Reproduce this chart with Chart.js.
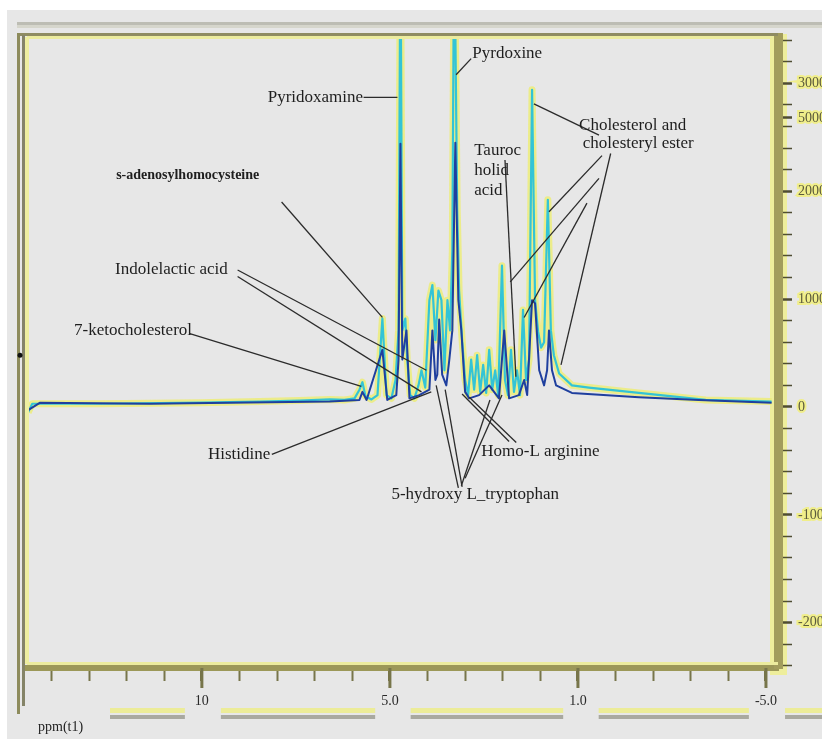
<!DOCTYPE html>
<html>
<head>
<meta charset="utf-8">
<title>ppm(t1)</title>
<script src="https://cdn.jsdelivr.net/npm/chart.js@4.4.1/dist/chart.umd.min.js"></script>
<style>
  body { margin: 0; background: #ffffff; overflow: hidden; }
  #fondo { position: absolute; left: 7px; top: 10px; right: 0; bottom: 0; background: #e7e7e7; }
  #caja { position: absolute; left: 0; top: 0; width: 860px; height: 739px; }
</style>
</head>
<body>
<div id="fondo"></div>
<div id="caja"><canvas id="grafico"></canvas></div>
<script>
// espectro (eje x en ppm del dibujo, eje y en unidades de la escala derecha)
const cyanPpm = [14.62, 14.51, 12.71, 10.05, 8.46, 7.40, 6.60, 6.21, 5.94, 5.81, 5.73, 5.65, 5.49, 5.33, 5.20, 5.09, 4.96, 4.85, 4.77, 4.72,
  4.67, 4.59, 4.54, 4.46, 4.35, 4.24, 4.16, 4.06, 3.95, 3.87, 3.79, 3.71, 3.63, 3.55, 3.47, 3.40, 3.34, 3.29, 3.21, 3.16,
  3.08, 3.00, 2.92, 2.84, 2.76, 2.68, 2.60, 2.52, 2.44, 2.36, 2.28, 2.20, 2.12, 2.02, 1.94, 1.86, 1.78, 1.70, 1.62, 1.54,
  1.46, 1.38, 1.30, 1.22, 1.14, 1.06, 0.98, 0.90, 0.80, 0.72, 0.64, 0.50, 0.16, -0.29, -1.62, -3.40, -5.15];
const cyanIntensity = [-0.05, 0.03, 0.03, 0.04, 0.05, 0.06, 0.07, 0.065, 0.08, 0.16, 0.23, 0.10, 0.07, 0.11, 0.82, 0.11, 0.08, 0.25, 0.71, 4.5,
  0.71, 0.82, 0.44, 0.11, 0.08, 0.20, 0.34, 0.18, 0.99, 1.13, 0.62, 1.08, 0.99, 0.34, 0.99, 0.71, 1.45, 4.5, 1.82, 1.08,
  0.62, 0.25, 0.11, 0.44, 0.16, 0.48, 0.14, 0.39, 0.13, 0.53, 0.16, 0.34, 0.11, 1.31, 0.25, 0.11, 0.53, 0.14, 0.34, 0.11,
  0.90, 0.25, 0.44, 2.94, 0.99, 0.70, 0.55, 0.60, 1.92, 0.71, 0.48, 0.31, 0.20, 0.18, 0.13, 0.065, 0.05];

const bluePpm = [14.62, 14.30, 11.38, 6.60, 5.81, 5.73, 5.62, 5.20, 5.07, 4.83, 4.77, 4.72, 4.67, 4.56, 4.48, 4.22, 3.95, 3.87, 3.79, 3.74,
  3.69, 3.61, 3.50, 3.42, 3.34, 3.26, 3.18, 3.10, 3.00, 2.89, 2.63, 2.36, 2.10, 1.96, 1.83, 1.57, 1.43, 1.35, 1.22, 1.14,
  1.03, 0.90, 0.82, 0.77, 0.69, 0.58, 0.16, -1.62, -3.21, -5.15];
const blueIntensity = [-0.03, 0.04, 0.03, 0.05, 0.065, 0.14, 0.065, 0.53, 0.065, 0.11, 0.44, 2.44, 0.44, 0.71, 0.08, 0.11, 0.16, 0.71, 0.25, 0.30,
  0.81, 0.30, 0.20, 0.44, 0.71, 2.45, 0.99, 0.71, 0.14, 0.08, 0.11, 0.20, 0.08, 0.71, 0.08, 0.11, 0.25, 0.11, 0.99, 0.96,
  0.34, 0.20, 0.34, 0.71, 0.34, 0.20, 0.13, 0.09, 0.065, 0.04];

// ejes
const xTickValues = [10, 5, 0, -5];
const xTickLabels = ['10', '5.0', '1.0', '-5.0'];
const yTickValues = [3.0, 2.68, 2, 1, 0, -1, -2];
const yTickLabels = ['3000', '5000', '2000', '1000', '0', '-1000', '-2000'];

// nombres de los picos
const peakLabels = ['Pyridoxamine', 'Pyrdoxine', 's-adenosylhomocysteine', 'Indolelactic acid', '7-ketocholesterol', 'Histidine',
  'Homo-L arginine', '5-hydroxy L_tryptophan', 'Tauroc', 'holid', 'acid', 'Cholesterol and', 'cholesteryl ester'];
const peakLabelX = [8.25, 2.81, 12.28, 12.31, 13.40, 9.84, 2.57, 4.96, 2.76, 2.76, 2.76, -0.03, -0.13];
const peakLabelY = [2.87, 3.28, 2.15, 1.27, 0.71, -0.44, -0.41, -0.81, 2.38, 2.19, 2.01, 2.61, 2.44];

// lineas que unen nombre y pico
const leaderFrom = [[5.70, 2.87], [2.84, 3.23], [7.88, 1.90], [9.05, 1.27], [9.05, 1.21], [10.32, 0.68], [8.14, -0.44],
  [1.64, -0.33], [1.83, -0.32], [3.18, -0.75], [3.08, -0.74], [3.10, -0.73], [3.00, -0.66], [1.94, 2.29],
  [-0.56, 2.52], [-0.64, 2.33], [-0.56, 2.12], [-0.24, 1.89], [-0.87, 2.35]];
const leaderTo = [[4.80, 2.87], [3.24, 3.08], [5.20, 0.83], [4.03, 0.34], [4.16, 0.14], [5.76, 0.19], [3.90, 0.14],
  [2.89, 0.09], [3.08, 0.12], [3.77, 0.20], [3.53, 0.16], [2.34, 0.065], [2.02, 0.11], [1.65, 0.28],
  [1.17, 2.81], [0.77, 1.81], [1.80, 1.16], [1.43, 0.83], [0.45, 0.39]];

const serif = '"Liberation Serif", "DejaVu Serif", serif';

const marco = {
    id: 'marco',
    beforeDraw(chart) {
        const { ctx, chartArea: a } = chart;
        ctx.save();
        // banda gris superior
        ctx.fillStyle = '#bdbdb4';
        ctx.fillRect(17, 22, chart.width, 3);
        ctx.fillStyle = '#d6d6cc';
        ctx.fillRect(17, 25, chart.width, 3);
        // brillo amarillo del eje derecho
        ctx.fillStyle = '#eeee9c';
        ctx.fillRect(a.right - 8, a.top - 3, 17, a.bottom - a.top + 10);
        ctx.restore();
    },
    afterDatasetsDraw(chart) {
        const { ctx, chartArea: a } = chart;
        ctx.save();
        // borde superior
        ctx.fillStyle = '#8f8c62';
        ctx.fillRect(17, a.top - 4, a.right - 17, 3);
        ctx.fillStyle = '#ecec9e';
        ctx.fillRect(a.left, a.top - 1, a.right - a.left - 5, 3);
        // borde izquierdo doble
        ctx.fillStyle = '#8d8b5c';
        ctx.fillRect(17, a.top - 4, 3, a.bottom - a.top + 50);
        ctx.fillStyle = '#858468';
        ctx.fillRect(22, a.top - 2, 3, a.bottom - a.top + 40);
        ctx.fillStyle = '#eeeea0';
        ctx.fillRect(25, a.top, 4, a.bottom - a.top - 4);
        // borde inferior
        ctx.fillStyle = '#ecec9e';
        ctx.fillRect(a.left, a.bottom - 6, a.right - a.left, 3);
        ctx.restore();
    },
    afterDraw(chart) {
        const { ctx, chartArea: a, scales: { x, y } } = chart;
        ctx.save();

        // marcas largas del eje x
        ctx.strokeStyle = '#77754a';
        ctx.lineWidth = 3;
        xTickValues.forEach(v => {
            const px = x.getPixelForValue(v);
            ctx.beginPath();
            ctx.moveTo(px, a.bottom);
            ctx.lineTo(px, a.bottom + 20);
            ctx.stroke();
        });

        // barras bajo las etiquetas
        ctx.font = '14px ' + serif;
        const centros = xTickValues.map(v => x.getPixelForValue(v));
        const anchos = xTickLabels.map(t => ctx.measureText(t).width);
        const tramos = [[a.left + 83, centros[0] - anchos[0] / 2 - 10]];
        for (let i = 0; i < centros.length - 1; i++) {
            tramos.push([centros[i] + anchos[i] / 2 + 12, centros[i + 1] - anchos[i + 1] / 2 - 6]);
        }
        tramos.push([centros[3] + anchos[3] / 2 + 8, chart.width]);
        tramos.forEach(([x0, x1]) => {
            ctx.fillStyle = '#ecec98';
            ctx.fillRect(x0, 708, x1 - x0, 5);
            ctx.fillStyle = '#a9a9a0';
            ctx.fillRect(x0, 715, x1 - x0, 4);
        });

        ctx.fillStyle = '#222';
        ctx.textBaseline = 'middle';
        ctx.textAlign = 'left';
        ctx.font = '14px ' + serif;
        ctx.fillText('ppm(t1)', 38, 727);

        // lineas de los picos
        ctx.strokeStyle = '#2b2b2b';
        ctx.lineWidth = 1.3;
        leaderFrom.forEach((p, i) => {
            ctx.beginPath();
            ctx.moveTo(x.getPixelForValue(p[0]), y.getPixelForValue(p[1]));
            ctx.lineTo(x.getPixelForValue(leaderTo[i][0]), y.getPixelForValue(leaderTo[i][1]));
            ctx.stroke();
        });

        // nombres
        peakLabels.forEach((t, i) => {
            ctx.font = (t === 's-adenosylhomocysteine' ? 'bold 14px ' : '17px ') + serif;
            ctx.fillStyle = '#1e1e1e';
            ctx.fillText(t, x.getPixelForValue(peakLabelX[i]), y.getPixelForValue(peakLabelY[i]));
        });

        // punto del borde izquierdo
        ctx.fillStyle = '#111';
        ctx.beginPath();
        ctx.arc(20, y.getPixelForValue(0.48), 2.5, 0, Math.PI * 2);
        ctx.fill();
        ctx.restore();
    }
};

const puntos = (xs, ys) => xs.map((v, i) => ({ x: v, y: ys[i] }));

const chart = document.getElementById('grafico');
const ctx = chart.getContext('2d');

new Chart(ctx, {
    type: 'line',
    data: {
        datasets: [{
            data: puntos(bluePpm, blueIntensity),
            borderColor: '#1f3f9e',
            borderWidth: 2,
            borderJoinStyle: 'round',
            pointRadius: 0,
            tension: 0
        }, {
            data: puntos(cyanPpm, cyanIntensity),
            borderColor: '#33c4d6',
            borderWidth: 2.2,
            borderJoinStyle: 'round',
            pointRadius: 0,
            tension: 0
        }, {
            data: puntos(cyanPpm, cyanIntensity),
            borderColor: 'rgba(236, 236, 128, 0.9)',
            borderWidth: 7,
            borderJoinStyle: 'round',
            pointRadius: 0,
            tension: 0
        }]
    },
    plugins: [marco],
    options: {
        responsive: true,
        maintainAspectRatio: false,
        animation: false,
        layout: { padding: { left: 27, top: 37, right: 0, bottom: 0 } },
        plugins: { legend: { display: false }, tooltip: { enabled: false } },
        scales: {
            x: {
                type: 'linear',
                reverse: true,
                min: -5.32,
                max: 14.65,
                afterFit: (scale) => { scale.height = 71; },
                afterBuildTicks: (axis) => {
                    axis.ticks = [];
                    for (let v = 14; v >= -5; v--) axis.ticks.push({ value: v });
                },
                grid: {
                    drawOnChartArea: false,
                    tickLength: 13,
                    tickColor: '#77754a',
                    tickWidth: (c) => (c.tick && xTickValues.includes(c.tick.value) ? 3 : 2)
                },
                border: { color: '#9c9858', width: 6 },
                ticks: {
                    autoSkip: false,
                    maxRotation: 0,
                    padding: 12,
                    color: '#2a2a2a',
                    font: { family: serif, size: 14 },
                    callback: (value) => {
                        const i = xTickValues.indexOf(value);
                        return i >= 0 ? xTickLabels[i] : '';
                    }
                }
            },
            y: {
                type: 'linear',
                position: 'right',
                min: -2.42,
                max: 3.43,
                afterFit: (scale) => { scale.width = 82; },
                afterBuildTicks: (axis) => {
                    axis.ticks = [];
                    for (let k = -12; k <= 17; k++) axis.ticks.push({ value: k / 5 });
                    axis.ticks.push({ value: 2.68 });
                    axis.ticks.sort((a, b) => a.value - b.value);
                },
                grid: {
                    drawOnChartArea: false,
                    tickLength: 14,
                    tickColor: '#4f4d33',
                    tickWidth: (c) => (c.tick && yTickValues.some(v => Math.abs(v - c.tick.value) < 1e-6) ? 2.5 : 1.5)
                },
                border: { color: '#a29d5c', width: 9 },
                ticks: {
                    autoSkip: false,
                    padding: 6,
                    color: '#5b5a3c',
                    textStrokeColor: '#f0ee8a',
                    textStrokeWidth: 4,
                    font: { family: serif, size: 14 },
                    callback: (value) => {
                        const i = yTickValues.findIndex(v => Math.abs(v - value) < 1e-6);
                        return i >= 0 ? yTickLabels[i] : '';
                    }
                }
            }
        }
    }
});
</script>
</body>
</html>
